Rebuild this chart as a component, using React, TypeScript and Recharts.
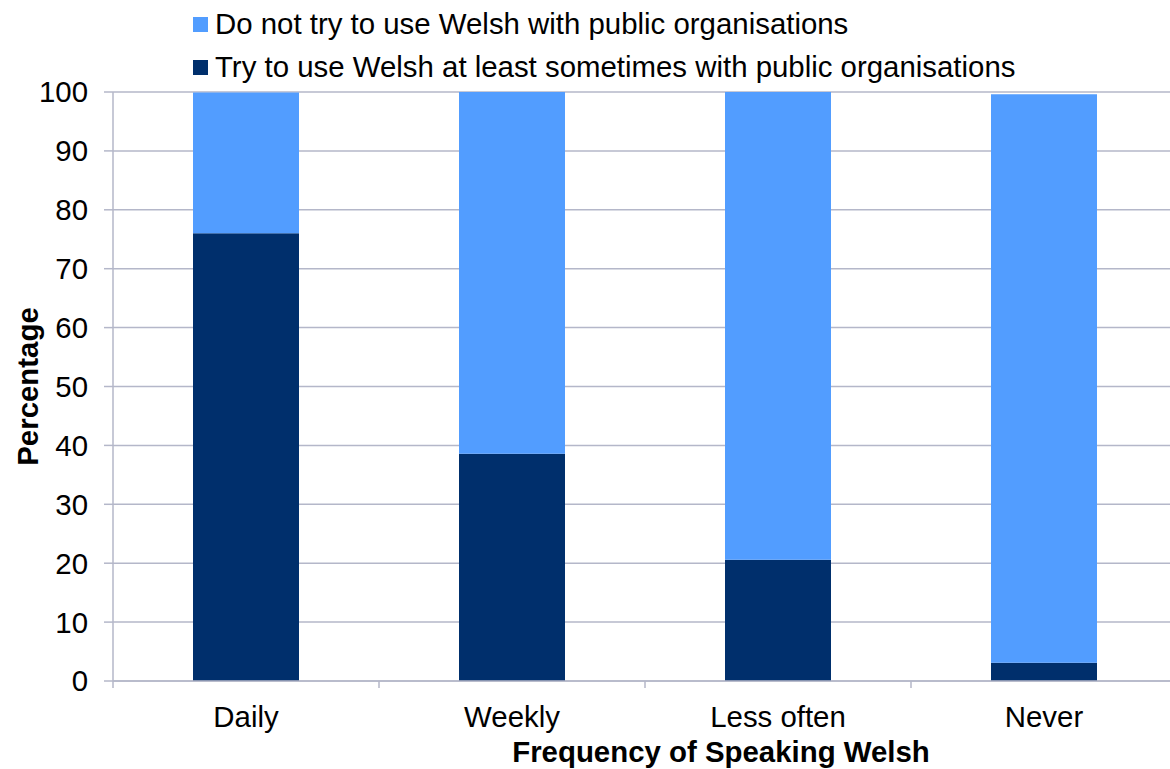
import { BarChart, Bar, XAxis, YAxis, CartesianGrid, Legend } from 'recharts'

// Use of Welsh with public organisations, split by how often people speak Welsh.
const CATEGORIES = ['Daily', 'Weekly', 'Less often', 'Never']
const TRY_SOMETIMES = [76, 38.6, 20.6, 3.1]
const DO_NOT_TRY = [23.9, 61.4, 79.4, 96.5]
const Y_TICKS = [0, 10, 20, 30, 40, 50, 60, 70, 80, 90, 100]

const SERIES_TRY = 'Try to use Welsh at least sometimes with public organisations'
const SERIES_NOT = 'Do not try to use Welsh with public organisations'

const DARK = '#002f6c'
const LIGHT = '#529dff'
const GRID = '#b4b7c9'
const FONT = '"Liberation Sans", Arial, sans-serif'
const FS = 29.4

const WIDTH = 1170
const HEIGHT = 769
const PLOT_LEFT = 113
const PLOT_TOP = 92
const RIGHT_CROP = -7 // the original plot runs slightly past the image edge
const X_AXIS_H = 88
const BAND = (WIDTH - RIGHT_CROP - PLOT_LEFT) / CATEGORIES.length

const data = CATEGORIES.map((name, i) => ({
  name,
  trySome: TRY_SOMETIMES[i],
  doNot: DO_NOT_TRY[i],
}))

function CategoryTick(props: any) {
  const { x, y, payload } = props
  return (
    <g>
      <line x1={x - BAND / 2} x2={x - BAND / 2} y1={y} y2={y + 7} stroke={GRID} strokeWidth={1.5} />
      <text x={x} y={y + 25} dy="0.71em" textAnchor="middle" fill="#000" fontSize={FS} fontFamily={FONT}>
        {payload.value}
      </text>
    </g>
  )
}

function LegendBox() {
  const rows = [
    { label: SERIES_NOT, color: LIGHT },
    { label: SERIES_TRY, color: DARK },
  ]
  return (
    <div style={{ position: 'relative', width: WIDTH, height: PLOT_TOP }}>
      {rows.map((r, i) => (
        <div
          key={r.label}
          style={{
            position: 'absolute',
            left: 193,
            top: 6 + i * 43,
            height: 36,
            display: 'flex',
            alignItems: 'center',
            whiteSpace: 'nowrap',
            fontFamily: FONT,
            fontSize: FS,
            color: '#000',
          }}
        >
          <span style={{ display: 'inline-block', width: 15, height: 15, background: r.color, marginRight: 7 }} />
          {r.label}
        </div>
      ))}
    </div>
  )
}

export default function App() {
  return (
    <div style={{ position: 'absolute', left: 0, top: 0, width: WIDTH, height: HEIGHT, overflow: 'hidden', background: '#fff' }}>
      <BarChart
        width={WIDTH}
        height={HEIGHT}
        data={data}
        margin={{ top: PLOT_TOP, right: RIGHT_CROP, bottom: 0, left: 0 }}
        style={{ fontFamily: FONT, overflow: 'hidden' }}
      >
        <CartesianGrid vertical={false} stroke={GRID} strokeWidth={1.5} />
        <XAxis
          dataKey="name"
          height={X_AXIS_H}
          stroke={GRID}
          strokeWidth={1.5}
          tickLine={false}
          tickSize={0}
          tickMargin={0}
          interval={0}
          tick={<CategoryTick />}
          label={{
            content: () => (
              <text x={721} y={762} textAnchor="middle" fontSize={FS} fontWeight="bold" fill="#000" fontFamily={FONT}>
                Frequency of Speaking Welsh
              </text>
            ),
          }}
        />
        <YAxis
          width={PLOT_LEFT}
          domain={[0, 100]}
          ticks={Y_TICKS}
          interval={0}
          stroke={GRID}
          strokeWidth={1.5}
          tickSize={9}
          tickMargin={16}
          tick={{ fill: '#000', fontSize: FS, fontFamily: FONT }}
          label={{
            content: (p: any) => {
              const vb = p.viewBox || {}
              const cy = (vb.y ?? PLOT_TOP) + (vb.height ?? 589) / 2
              return (
                <text
                  x={27}
                  y={cy}
                  transform={`rotate(-90 27 ${cy})`}
                  textAnchor="middle"
                  dominantBaseline="central"
                  fontSize={FS}
                  fontWeight="bold"
                  fill="#000"
                  fontFamily={FONT}
                >
                  Percentage
                </text>
              )
            },
          }}
        />
        <Legend
          layout="vertical"
          align="center"
          verticalAlign="middle"
          wrapperStyle={{ top: 0, left: 0, width: WIDTH, height: PLOT_TOP }}
          content={() => <LegendBox />}
        />
        <Bar dataKey="trySome" name={SERIES_TRY} stackId="a" fill={DARK} barSize={106} isAnimationActive={false} />
        <Bar dataKey="doNot" name={SERIES_NOT} stackId="a" fill={LIGHT} barSize={106} isAnimationActive={false} />
      </BarChart>
    </div>
  )
}
